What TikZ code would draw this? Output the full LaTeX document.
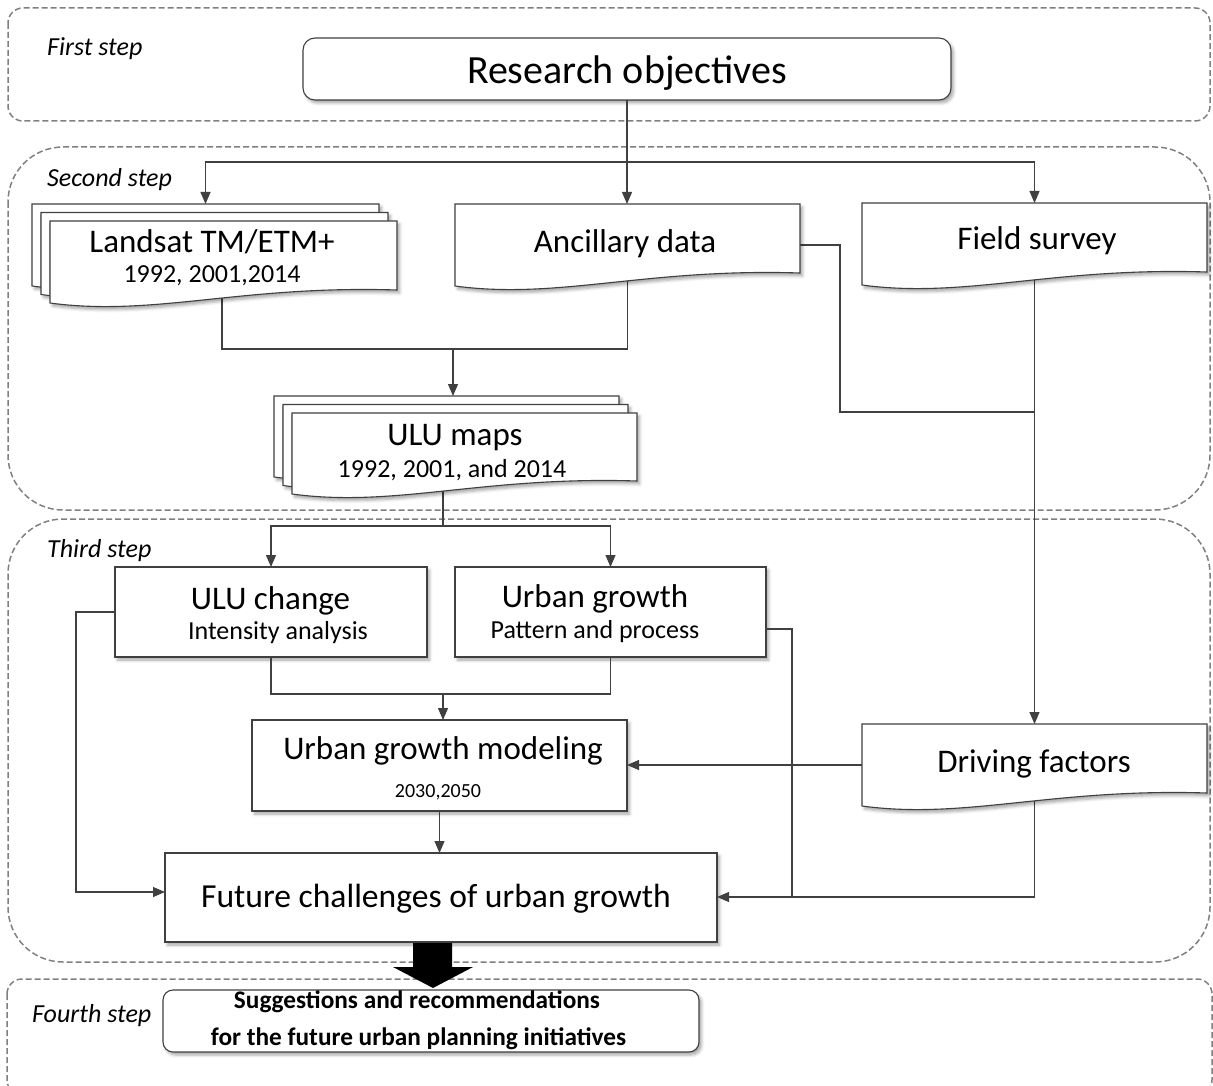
\documentclass[tikz,border=0pt]{standalone}
\usepackage{fontspec}
\setmainfont{Carlito}
\usetikzlibrary{arrows.meta,calc,shadows.blur}
\newcommand\szTitle{\fontsize{40}{48}\selectfont}
\newcommand\szMain{\fontsize{33}{40}\selectfont}
\newcommand\szMainB{\fontsize{33.6}{40}\selectfont}
\newcommand\szSub{\fontsize{26}{31}\selectfont}
\newcommand\szSmall{\fontsize{20}{24}\selectfont}
\newcommand\szBold{\fontsize{25.3}{30}\selectfont\bfseries}
\tikzset{
 stepframe/.style={draw=black!50, line width=1.5pt, dash pattern=on 6pt off 3pt},
 boxline/.style={draw=black!75, line width=1.1pt, fill=white,
   blur shadow={shadow xshift=2.5pt, shadow yshift=-3pt, shadow blur radius=3pt, shadow opacity=35}},
 anchorbox/.style={inner sep=0pt, outer sep=0pt},
 conn/.style={draw=black!75, line width=1.1pt},
 arr/.style={-{Triangle[width=10pt,length=12pt]}},
 txt/.style={inner sep=0pt, anchor=base},
 steplabel/.style={inner sep=0pt, anchor=base west, font={\fontsize{26}{30}\selectfont\itshape}},
}
\newcommand\docout[1]{%
 \draw[boxline] (#1.north west) -- (#1.north east) -- ([yshift=13pt]#1.south east)
  .. controls ($(#1.south west)!0.55!(#1.south east)+(0,-18)$) and ($(#1.south west)!0.3!(#1.south east)+(0,14)$) .. (#1.south west) -- cycle;}
\begin{document}
\begin{tikzpicture}[x=1pt,y=-1pt]
\useasboundingbox (0,0) rectangle (1213,1086);
% step frames
\draw[stepframe, rounded corners=15pt] (8,8) rectangle (1210,121);
\draw[stepframe, rounded corners=55pt] (8,147) rectangle (1210,510);
\draw[stepframe, rounded corners=55pt] (8,519) rectangle (1210,962);
\draw[stepframe, rounded corners=15pt] (7,979) rectangle (1212,1095);
\node[steplabel] (lab1) at (47,56) {First step};
\node[steplabel] (lab2) at (47,187) {Second step};
\node[steplabel] (lab3) at (47,557) {Third step};
\node[steplabel] (lab4) at (32,1022) {Fourth step};
% rectangular boxes
\node[boxline, anchorbox, rounded corners=12pt, minimum width=648pt, minimum height=62pt] (research) at (627,69) {};
\node[boxline, anchorbox, minimum width=312pt, minimum height=90pt] (uluchange) at (271,612) {};
\node[boxline, anchorbox, minimum width=311pt, minimum height=90pt] (urbangrowth) at (610.5,612) {};
\node[boxline, anchorbox, minimum width=375pt, minimum height=91pt] (modeling) at (439.5,765.5) {};
\node[boxline, anchorbox, minimum width=552pt, minimum height=89pt] (future) at (441,897.5) {};
\node[boxline, anchorbox, rounded corners=10pt, minimum width=536pt, minimum height=62pt] (sugg) at (431,1021) {};
% document shapes (anchors)
\node[anchorbox, minimum width=347pt, minimum height=82pt] (landsatA) at (205.5,245) {};
\node[anchorbox, minimum width=347pt, minimum height=82pt] (landsatB) at (214.5,253.5) {};
\node[anchorbox, minimum width=347pt, minimum height=82pt] (landsat) at (223.5,262) {};
\node[anchorbox, minimum width=345pt, minimum height=82pt] (ancillary) at (627.5,245) {};
\node[anchorbox, minimum width=345pt, minimum height=82pt] (field) at (1034.5,244) {};
\node[anchorbox, minimum width=345pt, minimum height=81pt] (ulumapsA) at (446.5,436.5) {};
\node[anchorbox, minimum width=345pt, minimum height=81pt] (ulumapsB) at (455.5,445) {};
\node[anchorbox, minimum width=345pt, minimum height=81pt] (ulumaps) at (464.5,453.5) {};
\node[anchorbox, minimum width=345pt, minimum height=82pt] (driving) at (1034.5,765) {};
% junction coordinates
\coordinate (r1) at (627,162);
\coordinate (lsbot) at (222,349);
\coordinate (anbot) at (627.5,349);
\coordinate (j2) at (453,349);
\coordinate (a2) at (840,412);
\coordinate (u1) at (443,526);
\coordinate (u2) at (443,694);
\coordinate (lft) at (76,892);
\coordinate (rt) at (792,897);
% connectors
\draw[conn,arr] (research.south) -- (research.south |- ancillary.north);
\draw[conn,arr] (r1) -| (landsatA.north);
\draw[conn,arr] (r1) -| (field.north);
\draw[conn] (landsat.center -| lsbot) -- (lsbot) -- (anbot) -- (ancillary.center);
\draw[conn,arr] (j2) -- (j2 |- ulumapsA.north);
\draw[conn] (ancillary.east) -| (a2) -- (a2 -| field.center);
\draw[conn,arr] (field.center) -- (driving.north);
\draw[conn] (ulumaps.center -| u1) -- (u1);
\draw[conn,arr] (u1) -| (uluchange.north);
\draw[conn,arr] (u1) -| (urbangrowth.north);
\draw[conn] (uluchange.south) |- (u2 -| urbangrowth.south) -- (urbangrowth.south);
\draw[conn,arr] (u2) -- (u2 |- modeling.north);
\draw[conn,arr] (driving.west) -- (driving.west -| modeling.east);
\draw[conn,arr] (modeling.south) -- (modeling.south |- future.north);
\draw[conn,arr] (uluchange.west) -| (lft) -- (lft -| future.west);
\draw[conn] (driving.center) |- (rt);
\draw[conn,arr] ([yshift=-17pt]urbangrowth.east) -| (rt) -- (rt -| future.east);
% document outlines
\docout{landsatA}\docout{landsatB}\docout{landsat}
\docout{ancillary}\docout{field}
\docout{ulumapsA}\docout{ulumapsB}\docout{ulumaps}
\docout{driving}
% texts
\node[txt] (tresearch) at (627,84) {\szTitle Research objectives};
\node[txt] (tlandsat1) at (212,253) {\szMain Landsat TM/ETM+};
\node[txt] (tlandsat2) at (212,282) {\szSub 1992, 2001,2014};
\node[txt] (tancillary) at (625,253) {\szMain Ancillary data};
\node[txt] (tfield) at (1037,250) {\szMain Field survey};
\node[txt] (tulu1) at (455,445) {\szMain ULU maps};
\node[txt] (tulu2) at (452,477) {\szSub 1992, 2001, and 2014};
\node[txt] (tuluc1) at (270.5,609) {\szMain ULU change};
\node[txt] (tuluc2) at (278,639) {\szSub Intensity analysis};
\node[txt] (tug1) at (595,607) {\szMain Urban growth};
\node[txt] (tug2) at (595,638) {\szSub Pattern and process};
\node[txt] (tmod1) at (443,759) {\szMain Urban growth modeling};
\node[txt] (tmod2) at (438,797) {\szSmall 2030,2050};
\node[txt] (tdriving) at (1034,772) {\szMain Driving factors};
\node[txt] (tfuture) at (436,907) {\szMainB Future challenges of urban growth};
\node[txt] (tsug1) at (417,1008) {\szBold Suggestions and recommendations};
\node[txt] (tsug2) at (418.5,1045) {\szBold for the future urban planning initiatives};
% block arrow
\fill[black] (413,943) -- (452,943) -- (452,967) -- (473,967) -- (433,988) -- (393,967) -- (413,967) -- cycle;
\end{tikzpicture}
\end{document}
